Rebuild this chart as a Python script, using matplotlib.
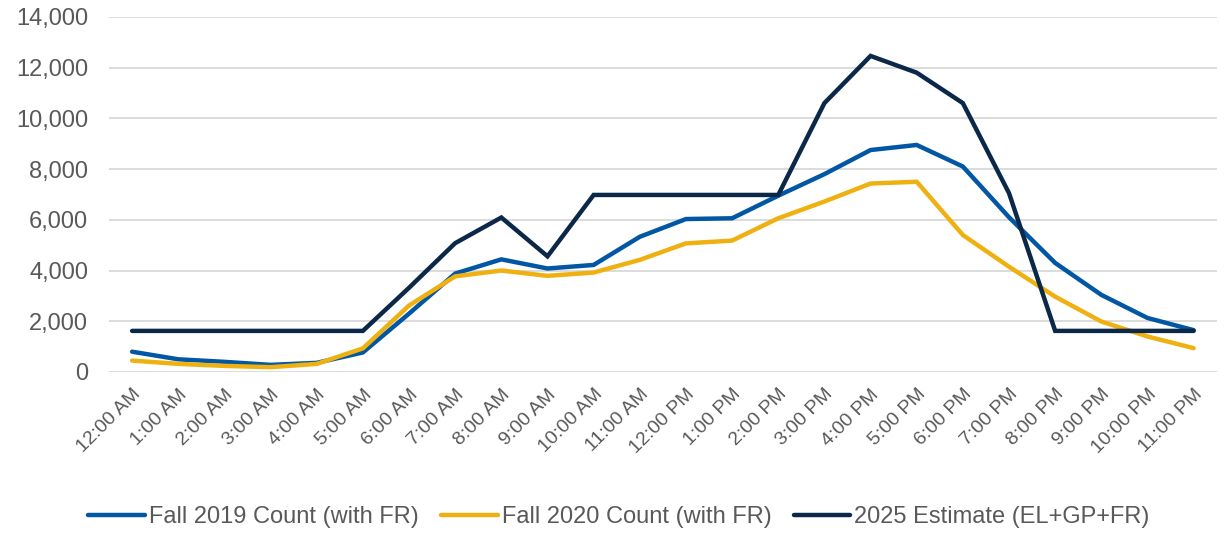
import matplotlib
matplotlib.use("Agg")
import matplotlib.pyplot as plt
from matplotlib.ticker import FuncFormatter

plt.rcParams["font.family"] = ["Liberation Sans", "DejaVu Sans"]

hours = ["12:00 AM", "1:00 AM", "2:00 AM", "3:00 AM", "4:00 AM", "5:00 AM",
         "6:00 AM", "7:00 AM", "8:00 AM", "9:00 AM", "10:00 AM", "11:00 AM",
         "12:00 PM", "1:00 PM", "2:00 PM", "3:00 PM", "4:00 PM", "5:00 PM",
         "6:00 PM", "7:00 PM", "8:00 PM", "9:00 PM", "10:00 PM", "11:00 PM"]

fall_2019 = [800, 500, 400, 280, 360, 770, 2300, 3880, 4440, 4080, 4220, 5330,
             6030, 6060, 6950, 7800, 8750, 8950, 8100, 6100, 4300, 3040, 2130, 1650]
fall_2020 = [450, 320, 240, 190, 320, 930, 2620, 3770, 4000, 3790, 3920, 4420,
             5070, 5180, 6060, 6720, 7430, 7500, 5400, 4150, 2970, 1990, 1400, 940]
est_2025 = [1620, 1620, 1620, 1620, 1620, 1620, 3320, 5080, 6090, 4560, 6980, 6980,
            6980, 6980, 6980, 10600, 12460, 11800, 10600, 7050, 1620, 1620, 1620, 1620]

series = [
    ("Fall 2019 Count (with FR)", fall_2019, "#0157A4"),
    ("Fall 2020 Count (with FR)", fall_2020, "#EEB111"),
    ("2025 Estimate (EL+GP+FR)", est_2025, "#0B2848"),
]

fig = plt.figure(figsize=(12.28, 5.34), dpi=100)
ax = fig.add_axes([0.0888, 0.3034, 0.902, 0.665])

x = list(range(len(hours)))
for label, vals, c in series:
    ax.plot(x, vals, color=c, linewidth=3.2, label=label,
            solid_capstyle="round", solid_joinstyle="miter")

ax.set_xlim(-0.5, len(hours) - 0.5)
ax.set_ylim(0, 14000)
ax.set_yticks(range(0, 14001, 2000))
ax.yaxis.set_major_formatter(FuncFormatter(lambda v, p: f"{int(v):,}"))
ax.set_xticks(x)
ax.set_xticklabels(hours, rotation=45, ha="right", rotation_mode="anchor")

ax.grid(axis="y", color="#D9D9D9", linewidth=1.3)
ax.set_axisbelow(True)
for s in ax.spines.values():
    s.set_visible(False)
ax.tick_params(axis="both", length=0, colors="#595959")
ax.tick_params(axis="y", pad=15, labelsize=17)
ax.tick_params(axis="x", pad=10, labelsize=14)

fig.legend(loc="center", bbox_to_anchor=(0.504, 0.032), ncol=3, frameon=False,
           fontsize=17, handlelength=2.4, handletextpad=0.17, columnspacing=0.95,
           labelcolor="#595959")

plt.savefig("out.png", dpi=100)
plt.close()
